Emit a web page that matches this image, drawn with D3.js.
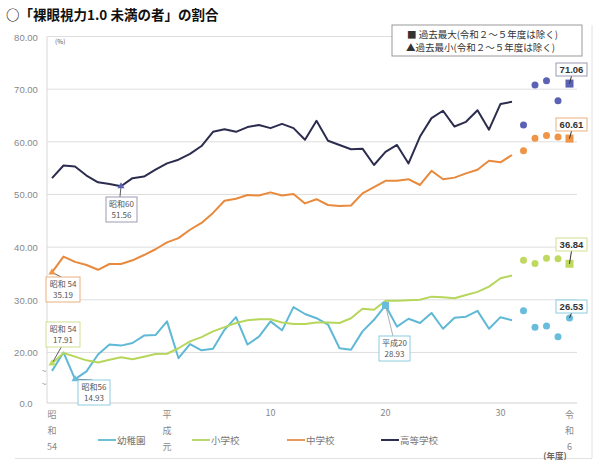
<!DOCTYPE html>
<html><head><meta charset="utf-8">
<script src="https://cdn.jsdelivr.net/npm/d3@7"></script>
<style>
html,body{margin:0;padding:0;background:#fff;}
svg{display:block;font-family:"Noto Sans CJK JP","Noto Sans",sans-serif;}
</style></head>
<body><svg id="c" width="600" height="460"></svg>
<script>
// ---- data ----
const years = d3.range(1979, 2020);           // 昭和54 … 令和元
const recentYears = [2020, 2021, 2022, 2023, 2024];  // 令和2 … 令和6
const kinder = [16.5,20.0,14.93,16.4,19.6,21.5,21.3,21.8,23.2,23.3,25.9,18.9,21.6,20.4,20.7,24.3,26.7,21.5,23.0,25.9,24.2,28.6,27.3,26.5,25.3,20.8,20.5,24.0,26.2,28.93,24.9,26.4,25.6,27.5,24.5,26.6,26.8,27.9,24.5,26.7,26.1];
const elem   = [17.91,19.9,19.2,18.5,18.1,18.6,19.1,18.7,19.2,19.7,19.75,20.8,22.1,22.9,24.0,24.8,25.6,26.1,26.3,26.3,25.7,25.4,25.4,25.7,25.7,25.6,26.5,28.3,28.1,29.8,29.8,29.9,30.0,30.6,30.5,30.3,30.9,31.5,32.5,34.1,34.6];
const junior = [35.19,38.2,37.2,36.6,35.7,36.8,36.8,37.5,38.5,39.6,40.9,41.7,43.3,44.6,46.5,48.8,49.2,49.9,49.8,50.4,49.8,50.1,48.3,49.1,48.0,47.8,47.9,50.2,51.4,52.6,52.6,52.9,51.8,54.5,52.9,53.2,54.0,54.7,56.4,56.1,57.5];
const high   = [53.1,55.5,55.3,53.6,52.3,52.0,51.56,53.1,53.4,54.7,55.9,56.6,57.7,59.2,61.9,62.4,61.9,62.8,63.2,62.6,63.4,62.6,60.4,64.0,60.2,59.4,58.6,58.7,55.6,58.1,59.4,55.9,61.0,64.5,65.9,62.9,63.8,66.0,62.3,67.2,67.6];
const kinderRecent = [27.9,24.8,25.0,23.0,26.53];
const elemRecent   = [37.5,36.9,37.9,37.8,36.84];
const juniorRecent = [58.3,60.7,61.2,60.9,60.61];
const highRecent   = [63.2,70.8,71.6,67.8,71.06];
const seriesNames = ["幼稚園","小学校","中学校","高等学校"];
const yTickValues = [10.4,20,30,40,50,60,70,80];
const yTickLabels = ["0.0","20.00","30.00","40.00","50.00","60.00","70.00","80.00"];
const xTickYears  = [1979, 1989, 1998, 2008, 2018, 2024];
const xTickLabels = [["昭","和","54"],["平","成","元"],["10"],["20"],["30"],["令","和","6"]];
const legendItems = ["■ 過去最大(令和２～５年度は除く)","▲過去最小(令和２～５年度は除く)"];
// annotations: [series index, year, line1, line2]
const minNotes = [[3,1985,"昭和60","51.56"],[2,1979,"昭和 54","35.19"],[1,1979,"昭和 54","17.91"],[0,1981,"昭和56","14.93"]];
const maxNotes = [[0,2008,"平成20","28.93"]];

// ---- styles ----
const lineColors = ["#5fb8d6","#b7d65c","#e8893c","#2c2d4e"];
const dotColors  = ["#68bcdc","#bfd960","#ee9548","#5b62b3"];
const legendColors = ["#6cc0d4","#b9d86e","#e59a5a","#2f3050"];
const boxColors = ["#8ccde0","#cfe08e","#e9b07c","#9a9cb4"];

const svg = d3.select("#c");
const x = d3.scaleLinear().domain([1979, 2024]).range([52, 569.5]);
const y = d3.scaleLinear().domain([10.4, 80]).range([403, 36.5]);

// title
svg.append("text").attr("x",6).attr("y",20).attr("font-size",13.5).attr("font-weight","bold")
  .attr("fill","#111").text("○「裸眼視力1.0 未満の者」の割合");

// frame lines
svg.append("line").attr("x1",592).attr("x2",592).attr("y1",25).attr("y2",458).attr("stroke","#e2e2e2");
svg.append("line").attr("x1",15).attr("x2",592).attr("y1",458.5).attr("y2",458.5).attr("stroke","#e2e2e2");

// grid
const gridG = svg.append("g");
yTickValues.forEach((v,i)=>{
  gridG.append("line").attr("x1",47).attr("x2",577).attr("y1",y(v)).attr("y2",y(v))
    .attr("stroke", i===0 ? "#cfcfcf" : "#dedede").attr("stroke-width",1);
  gridG.append("text").attr("x",26).attr("y",y(v)+4).attr("text-anchor","middle")
    .attr("font-size",9.5).attr("fill","#888").attr("font-family","Liberation Sans, Arial, sans-serif").text(yTickLabels[i]);
});
gridG.append("line").attr("x1",47).attr("x2",47).attr("y1",y(80)).attr("y2",y(10.4)).attr("stroke","#d8d8d8");
// axis break marks
["~","~"].forEach((t,i)=>svg.append("text").attr("x",44).attr("y",374+i*13).attr("text-anchor","middle")
  .attr("font-size",8).attr("fill","#888").text(t));
svg.append("text").attr("x",55).attr("y",44).attr("font-size",6.5).attr("fill","#555").text("(%)");

// x labels
xTickYears.forEach((yr,i)=>{
  const parts = xTickLabels[i];
  parts.forEach((p,j)=>{
    svg.append("text").attr("x",x(yr)).attr("y",(parts.length===1?416:418)+j*16)
      .attr("text-anchor","middle").attr("font-size",9).attr("fill","#888").text(p);
  });
});
svg.append("text").attr("x",555).attr("y",459).attr("text-anchor","middle").attr("font-size",8.5)
  .attr("font-weight","bold").attr("fill","#666").text("(年度)");

// lines
const allSeries = [kinder, elem, junior, high];
const allRecent = [kinderRecent, elemRecent, juniorRecent, highRecent];
const lineGen = d3.line().x(d=>x(d[0])).y(d=>y(d[1]));
allSeries.forEach((s,i)=>{
  svg.append("path").datum(years.map((yr,k)=>[yr,s[k]])).attr("d",lineGen)
    .attr("fill","none").attr("stroke",lineColors[i]).attr("stroke-width",2).attr("stroke-linejoin","round");
});

// recent dots
allRecent.forEach((s,i)=>{
  recentYears.forEach((yr,k)=>{
    if (k === recentYears.length-1 && i !== 0) {
      svg.append("rect").attr("x",x(yr)-4).attr("y",y(s[k])-4).attr("width",8).attr("height",8).attr("fill",dotColors[i]);
    } else {
      svg.append("circle").attr("cx",x(yr)).attr("cy",y(s[k])).attr("r",3.5).attr("fill",dotColors[i]);
    }
  });
});

// final value labels
const finalBoxY = [300, 238, 118, 63];
allRecent.forEach((s,i)=>{
  const v = s[s.length-1], cx = x(2024)+2;
  const by = finalBoxY[i];
  svg.append("line").attr("x1",cx).attr("x2",x(2024)).attr("y1",by+13).attr("y2",y(v)).attr("stroke","#333").attr("stroke-width",1);
  svg.append("rect").attr("x",cx-15.5).attr("y",by).attr("width",31).attr("height",13)
    .attr("fill","#fff").attr("stroke",boxColors[i]).attr("stroke-width",1);
  svg.append("text").attr("x",cx).attr("y",by+10).attr("text-anchor","middle").attr("font-size",9.5)
    .attr("font-weight","bold").attr("fill","#333").attr("font-family","Liberation Sans, Arial, sans-serif").text(v.toFixed(2));
});

// min/max annotations
function note(si, yr, l1, l2, bx, by, bw, mark){
  const s = allSeries[si], v = s[years.indexOf(yr)];
  const px = x(yr), py = y(v);
  svg.append("line").attr("x1",px).attr("y1",py).attr("x2",bx+bw*0.45).attr("y2",by < py ? by+25 : by)
    .attr("stroke", si===0 && mark==="max" ? "#999" : "#333").attr("stroke-width",0.8);
  if (mark==="min") {
    svg.append("path").attr("d",d3.symbol(d3.symbolTriangle,22)()).attr("transform",`translate(${px},${py})`).attr("fill",dotColors[si]);
  } else {
    svg.append("rect").attr("x",px-3.5).attr("y",py-3.5).attr("width",7).attr("height",7).attr("fill",dotColors[si]);
  }
  svg.append("rect").attr("x",bx).attr("y",by).attr("width",bw).attr("height",25)
    .attr("fill","#fff").attr("stroke",boxColors[si]).attr("stroke-width",1);
  svg.append("text").attr("x",bx+bw/2).attr("y",by+10).attr("text-anchor","middle").attr("font-size",8).attr("fill","#555").text(l1);
  svg.append("text").attr("x",bx+bw/2).attr("y",by+21).attr("text-anchor","middle").attr("font-size",8).attr("fill","#555").text(l2);
}
const noteBoxes = [[106,197,31],[46,277,34],[46,322,34],[78,380,32]];
minNotes.forEach((n,i)=>note(n[0],n[1],n[2],n[3],noteBoxes[i][0],noteBoxes[i][1],noteBoxes[i][2],"min"));
maxNotes.forEach(n=>note(n[0],n[1],n[2],n[3],379,336,31,"max"));

// top legend
svg.append("rect").attr("x",392).attr("y",25).attr("width",190).attr("height",31).attr("fill","#fff").attr("stroke","#999");
legendItems.forEach((t,i)=>svg.append("text").attr("x",407 - (i===1?1:0)).attr("y",38+i*13).attr("font-size",9.5).attr("fill","#333").text(t));

// bottom legend
const legX = [98, 192, 287, 381];
seriesNames.forEach((nm,i)=>{
  svg.append("line").attr("x1",legX[i]).attr("x2",legX[i]+18).attr("y1",440).attr("y2",440).attr("stroke",legendColors[i]).attr("stroke-width",2);
  svg.append("text").attr("x",legX[i]+19).attr("y",443.5).attr("font-size",9.5).attr("fill","#777").text(nm);
});
</script></body></html>
